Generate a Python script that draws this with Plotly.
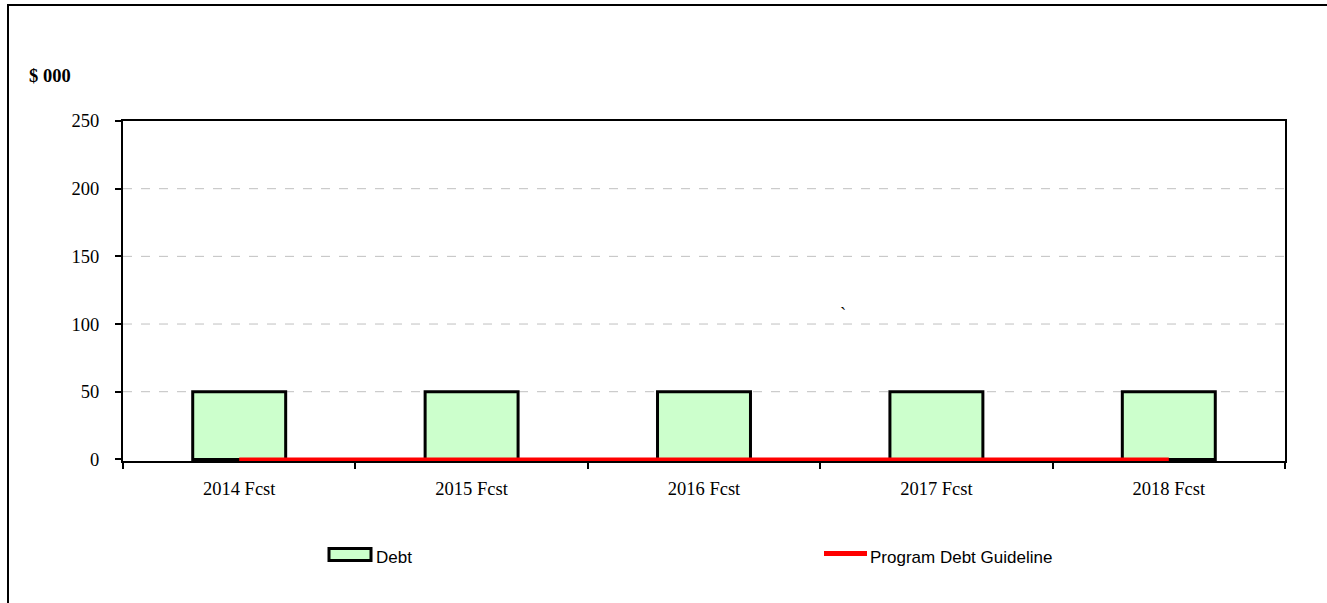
import plotly.graph_objects as go

categories = ["2014 Fcst", "2015 Fcst", "2016 Fcst", "2017 Fcst", "2018 Fcst"]
debt = [50, 50, 50, 50, 50]
guideline = [0, 0, 0, 0, 0]
y_ticks = [0, 50, 100, 150, 200, 250]
series_names = ["Debt", "Program Debt Guideline"]

W, H = 1327, 603
L, R, T, B = 123, 42, 121, 142
pw = W - L - R
ph = H - T - B

SERIF = "Liberation Serif, Times New Roman, serif"
SANS = "Liberation Sans, Arial, sans-serif"


def px_x(x):
    return (x - L) / pw


def px_y(y):
    return (H - B - y) / ph


fig = go.Figure()
fig.add_trace(go.Bar(
    x=categories, y=debt, name=series_names[0],
    marker=dict(color="#CCFFCC", line=dict(color="black", width=3)),
    width=0.4, showlegend=False,
))
fig.add_trace(go.Scatter(
    x=categories, y=guideline, name=series_names[1],
    mode="lines", line=dict(color="#FF0000", width=4), showlegend=False,
))

fig.update_layout(
    width=W, height=H,
    margin=dict(l=L, r=R, t=T, b=B),
    plot_bgcolor="white", paper_bgcolor="white",
    showlegend=False,
    font=dict(family=SERIF, size=18.5, color="black"),
)
fig.update_xaxes(
    showline=True, linecolor="black", linewidth=2, mirror=True,
    ticks="outside", tickson="boundaries", ticklen=6, tickwidth=2, tickcolor="black",
    showgrid=False, range=[-0.5, 4.5],
    tickfont=dict(family=SERIF, size=18.5),
    ticklabelstandoff=10,
)
fig.update_yaxes(
    range=[-1.2, 250], tickvals=y_ticks,
    showline=True, linecolor="black", linewidth=2, mirror=True,
    ticks="outside", ticklen=6, tickwidth=2, tickcolor="black",
    showgrid=False, zeroline=False,
    tickfont=dict(family=SERIF, size=18.5),
    ticklabelstandoff=12,
)

# dashed horizontal gridlines at the inner tick values
for v in y_ticks[1:-1]:
    fig.add_shape(type="line", xref="paper", yref="y", x0=0, x1=1, y0=v, y1=v,
                  line=dict(color="#C0C0C0", width=1, dash="dash"), layer="below")

fig.add_annotation(
    text="<b>$ 000</b>", xref="paper", yref="paper",
    x=px_x(27), y=px_y(76), xanchor="left", yanchor="middle", showarrow=False,
    font=dict(family=SERIF, size=18.5, color="black"),
)
fig.add_annotation(
    text="`", xref="paper", yref="paper",
    x=px_x(843), y=px_y(314), xanchor="center", yanchor="middle", showarrow=False,
    font=dict(family=SERIF, size=18.5, color="black"),
)

# manual legend
fig.add_shape(type="rect", xref="paper", yref="paper",
              x0=px_x(329), x1=px_x(371), y0=px_y(548.5), y1=px_y(560.5),
              fillcolor="#CCFFCC", line=dict(color="black", width=3))
fig.add_annotation(
    text=series_names[0], xref="paper", yref="paper",
    x=px_x(374), y=px_y(557), xanchor="left", yanchor="middle", showarrow=False,
    font=dict(family=SANS, size=17, color="black"),
)
fig.add_shape(type="line", xref="paper", yref="paper",
              x0=px_x(824), x1=px_x(867), y0=px_y(553.5), y1=px_y(553.5),
              line=dict(color="#FF0000", width=5))
fig.add_annotation(
    text=series_names[1], xref="paper", yref="paper",
    x=px_x(868), y=px_y(557), xanchor="left", yanchor="middle", showarrow=False,
    font=dict(family=SANS, size=17, color="black"),
)

# outer chart-area border (left and top visible)
fig.add_shape(type="line", xref="paper", yref="paper",
              x0=px_x(8), x1=px_x(8), y0=px_y(4), y1=px_y(610),
              line=dict(color="black", width=2))
fig.add_shape(type="line", xref="paper", yref="paper",
              x0=px_x(7), x1=px_x(1330), y0=px_y(5), y1=px_y(5),
              line=dict(color="black", width=2))

fig.write_html("out.html", config={"displayModeBar": False},
               post_script="document.body.style.margin='0';")
